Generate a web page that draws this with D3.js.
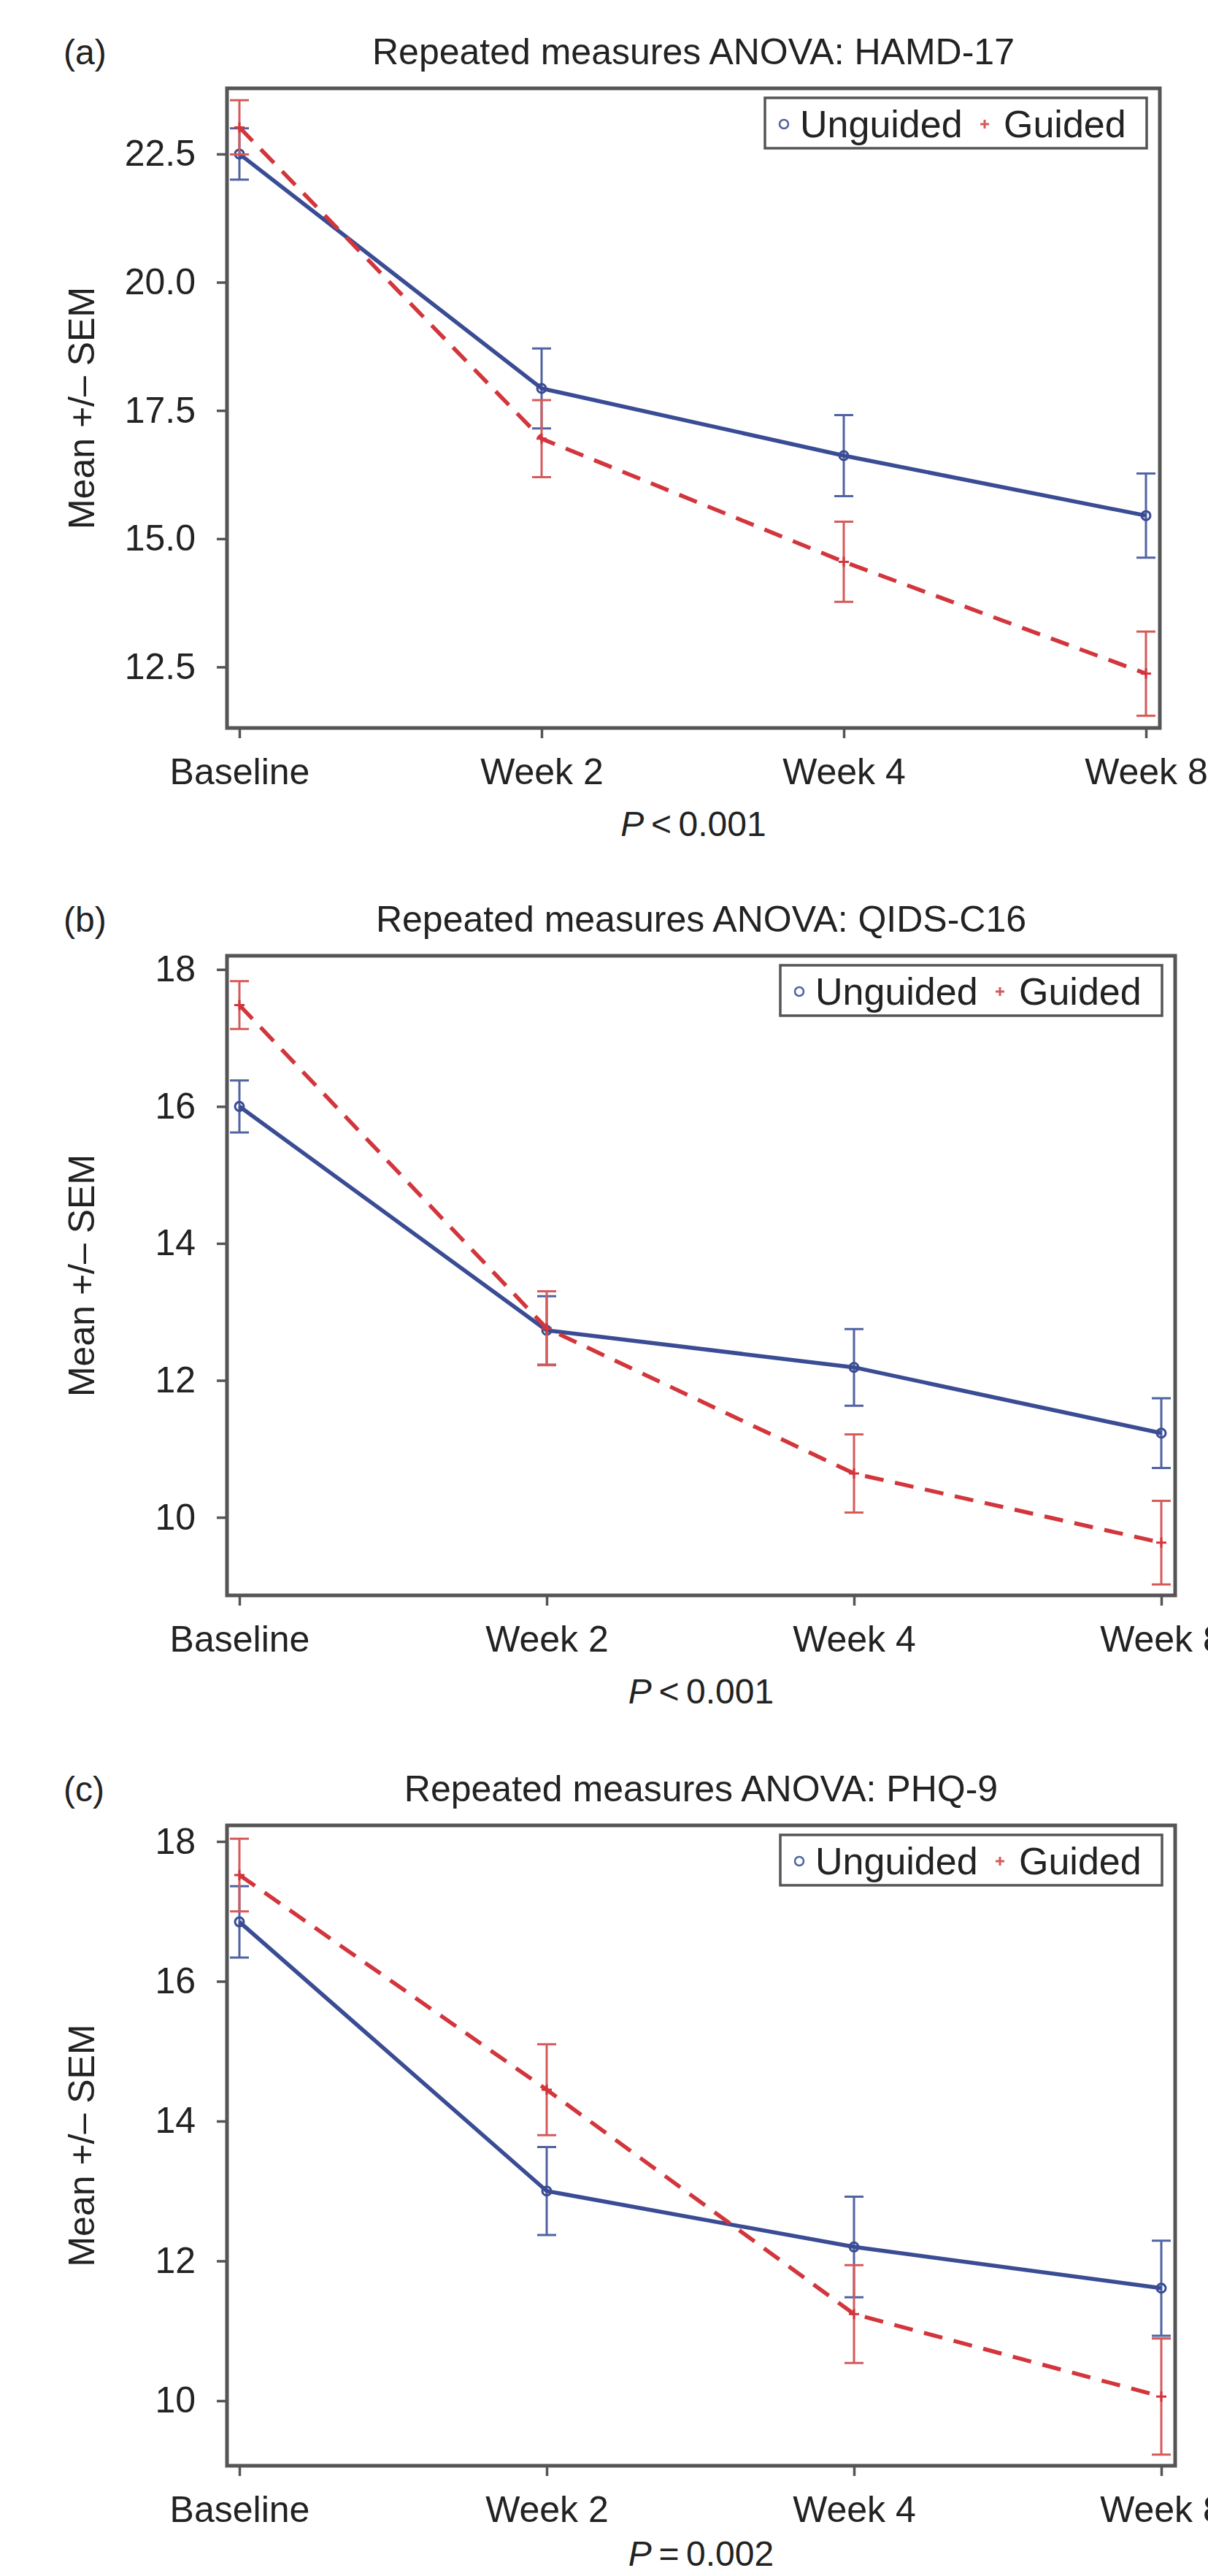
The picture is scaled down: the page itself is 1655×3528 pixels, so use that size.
<!DOCTYPE html>
<html>
<head>
<meta charset="utf-8">
<script src="https://cdn.jsdelivr.net/npm/d3@7"></script>
<style>
  body { margin: 0; background: #fff; }
  text { font-family: "Liberation Sans", Arial, sans-serif; fill: #222; }
</style>
</head>
<body>
<div id="chart"></div>
<script>
// time points on the x axis
var timepoints = ["Baseline", "Week 2", "Week 4", "Week 8"];
var seriesNames = ["Unguided", "Guided"];

var panelLabels = ["(a)", "(b)", "(c)"];
var panelTitles = ["Repeated measures ANOVA: HAMD-17",
                   "Repeated measures ANOVA: QIDS-C16",
                   "Repeated measures ANOVA: PHQ-9"];
var pSigns = ["<", "<", "="];
var pValues = ["0.001", "0.001", "0.002"];

// y axis ranges and ticks
var yDomains = [[11.31, 23.78], [8.86, 18.2], [9.07, 18.23]];
var yTicks = [[12.5, 15.0, 17.5, 20.0, 22.5], [10, 12, 14, 16, 18], [10, 12, 14, 16, 18]];
var yFormats = [".1f", "d", "d"];

// HAMD-17
var hamdUnguidedMean = [22.5, 17.93, 16.62, 15.45];
var hamdUnguidedSem  = [0.5, 0.78, 0.79, 0.82];
var hamdGuidedMean   = [23.02, 16.95, 14.55, 12.37];
var hamdGuidedSem    = [0.53, 0.75, 0.78, 0.82];

// QIDS-C16
var qidsUnguidedMean = [16.0, 12.73, 12.19, 11.23];
var qidsUnguidedSem  = [0.38, 0.5, 0.56, 0.51];
var qidsGuidedMean   = [17.48, 12.76, 10.64, 9.63];
var qidsGuidedSem    = [0.35, 0.54, 0.57, 0.61];

// PHQ-9
var phqUnguidedMean = [16.85, 13.0, 12.2, 11.61];
var phqUnguidedSem  = [0.51, 0.63, 0.72, 0.68];
var phqGuidedMean   = [17.52, 14.45, 11.24, 10.06];
var phqGuidedSem    = [0.52, 0.65, 0.7, 0.83];

var unguidedMeans = [hamdUnguidedMean, qidsUnguidedMean, phqUnguidedMean];
var unguidedSems  = [hamdUnguidedSem, qidsUnguidedSem, phqUnguidedSem];
var guidedMeans   = [hamdGuidedMean, qidsGuidedMean, phqGuidedMean];
var guidedSems    = [hamdGuidedSem, qidsGuidedSem, phqGuidedSem];

// plot box of each panel (pixels)
var layout = [
    {x0: 311, x1: 1589, y0: 121, y1: 997},
    {x0: 311, x1: 1610, y0: 1309, y1: 2185},
    {x0: 311, x1: 1610, y0: 2500, y1: 3377}
];

var blue = "#3a4c94";
var blueBar = "#5063a2";
var red = "#d2363c";
var redBar = "#d65a5a";
var boxColor = "#555";

var svg = d3.select("#chart")
    .append("svg")
    .attr("width", 1655)
    .attr("height", 3528);

svg.append("rect").attr("width", 1655).attr("height", 3528).attr("fill", "#fff");

function plusPath(cx, cy, s) {
    return "M" + (cx - s) + "," + cy + "H" + (cx + s) + "M" + cx + "," + (cy - s) + "V" + (cy + s);
}

function drawPanel(i) {
    var b = layout[i];
    var g = svg.append("g");

    var x = d3.scalePoint().domain(timepoints).range([b.x0 + 17, b.x1 - 19]);
    var y = d3.scaleLinear().domain(yDomains[i]).range([b.y1, b.y0]);

    // panel letter and title
    g.append("text").attr("x", 87).attr("y", b.y0 - 33)
        .style("font-size", "48px").text(panelLabels[i]);
    g.append("text").attr("x", (b.x0 + b.x1) / 2).attr("y", b.y0 - 33)
        .attr("text-anchor", "middle").style("font-size", "50px").text(panelTitles[i]);

    // axes
    var yAxis = d3.axisLeft(y).tickValues(yTicks[i]).tickFormat(d3.format(yFormats[i]))
        .tickSize(14).tickSizeOuter(0).tickPadding(29);
    var ya = g.append("g").attr("transform", "translate(" + b.x0 + ",0)").call(yAxis);
    ya.select(".domain").remove();
    ya.selectAll("line").attr("stroke", boxColor).attr("stroke-width", 3.5);
    ya.selectAll("text").style("font-size", "50px").attr("fill", "#222");

    var xAxis = d3.axisBottom(x).tickSize(14).tickSizeOuter(0).tickPadding(27);
    var xa = g.append("g").attr("transform", "translate(0," + b.y1 + ")").call(xAxis);
    xa.select(".domain").remove();
    xa.selectAll("line").attr("stroke", boxColor).attr("stroke-width", 3.5);
    xa.selectAll("text").style("font-size", "50px").attr("fill", "#222");

    // y axis title
    g.append("text")
        .attr("transform", "translate(112," + ((b.y0 + b.y1) / 2) + ") rotate(-90)")
        .attr("text-anchor", "middle").attr("dominant-baseline", "central")
        .style("font-size", "50px").text("Mean +/\u2013 SEM");

    // P value below the x axis (kept inside the page for the last panel)
    var pt = g.append("text").attr("x", (b.x0 + b.x1) / 2).attr("y", Math.min(b.y1 + 148, 3514))
        .attr("text-anchor", "middle").style("font-size", "48px");
    pt.append("tspan").style("font-style", "italic").text("P");
    pt.append("tspan").text("\u2009" + pSigns[i] + "\u2009" + pValues[i]);

    // plot box
    g.append("rect").attr("x", b.x0).attr("y", b.y0)
        .attr("width", b.x1 - b.x0).attr("height", b.y1 - b.y0)
        .attr("fill", "none").attr("stroke", boxColor).attr("stroke-width", 5);

    var series = [
        {mean: unguidedMeans[i], sem: unguidedSems[i], color: blue, bar: blueBar, dash: null},
        {mean: guidedMeans[i], sem: guidedSems[i], color: red, bar: redBar, dash: "26,16"}
    ];

    var line = d3.line().x(function(d, k) { return x(timepoints[k]); }).y(function(d) { return y(d); });

    series.forEach(function(s, si) {
        var pts = s.mean.map(function(m, k) { return {t: timepoints[k], m: m, e: s.sem[k]}; });

        // error bars
        var eb = g.append("g").attr("stroke", s.bar).attr("stroke-width", 3).attr("fill", "none");
        pts.forEach(function(p) {
            var cx = x(p.t);
            eb.append("path").attr("d",
                "M" + cx + "," + y(p.m - p.e) + "V" + y(p.m + p.e) +
                "M" + (cx - 13) + "," + y(p.m + p.e) + "H" + (cx + 13) +
                "M" + (cx - 13) + "," + y(p.m - p.e) + "H" + (cx + 13));
        });

        g.append("path").datum(s.mean).attr("d", line)
            .attr("fill", "none").attr("stroke", s.color).attr("stroke-width", 5.5)
            .attr("stroke-dasharray", s.dash);

        pts.forEach(function(p) {
            if (si === 0) {
                g.append("circle").attr("cx", x(p.t)).attr("cy", y(p.m)).attr("r", 6)
                    .attr("fill", "none").attr("stroke", s.color).attr("stroke-width", 3);
            } else {
                g.append("path").attr("d", plusPath(x(p.t), y(p.m), 7))
                    .attr("stroke", s.color).attr("stroke-width", 3);
            }
        });
    });

    // legend box in the top right
    var lx = b.x1 - 541, ly = b.y0 + 13;
    var lg = g.append("g").attr("transform", "translate(" + lx + "," + ly + ")");
    lg.append("rect").attr("width", 523).attr("height", 69)
        .attr("fill", "#fff").attr("stroke", boxColor).attr("stroke-width", 3.5);
    lg.append("circle").attr("cx", 26).attr("cy", 36).attr("r", 6)
        .attr("fill", "none").attr("stroke", blueBar).attr("stroke-width", 2.5);
    lg.append("text").attr("x", 48).attr("y", 54).style("font-size", "52px").text(seriesNames[0]);
    lg.append("path").attr("d", plusPath(301, 36, 6)).attr("stroke", redBar).attr("stroke-width", 3);
    lg.append("text").attr("x", 327).attr("y", 54).style("font-size", "52px").text(seriesNames[1]);
}

for (var i = 0; i < layout.length; i++) {
    drawPanel(i);
}
</script>
</body>
</html>
